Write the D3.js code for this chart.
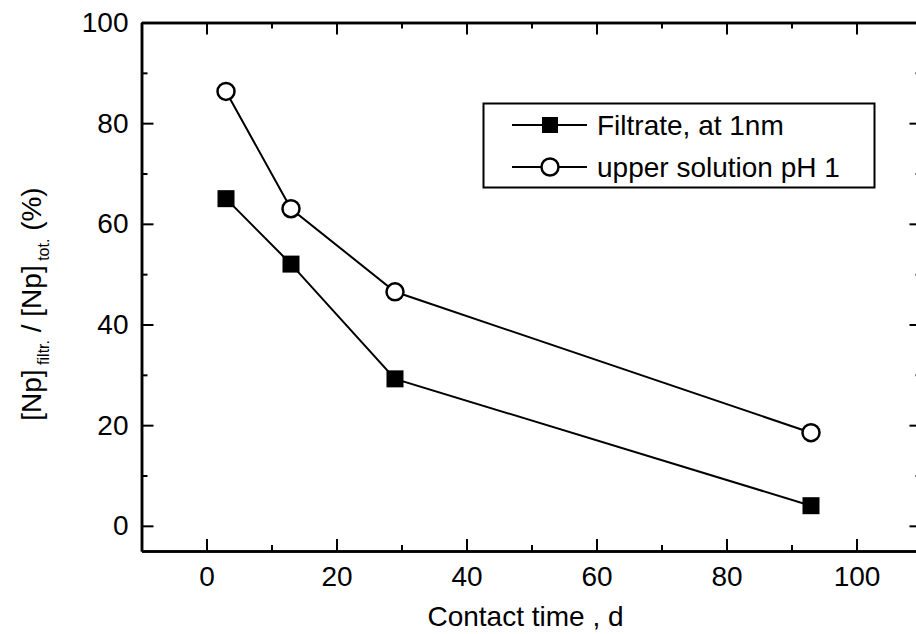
<!DOCTYPE html>
<html>
<head>
<meta charset="utf-8">
<script src="https://cdn.jsdelivr.net/npm/d3@7"></script>
<style>
  body { margin: 0; background: #fff; }
  svg { font-family: "Liberation Sans", Arial, sans-serif; }
</style>
</head>
<body>
<svg id="root"></svg>
<script>
// data
const days = [3, 13, 29, 93];
const filtrate = [65, 52, 29.2, 4];
const upper = [86.3, 63, 46.5, 18.5];
const seriesNames = ["Filtrate, at 1nm", "upper solution pH 1"];
const xTicks = [0, 20, 40, 60, 80, 100];
const xMinor = [-10, 10, 30, 50, 70, 90, 110];
const yTicks = [0, 20, 40, 60, 80, 100];
const yMinor = [10, 30, 50, 70, 90];

const W = 916, H = 634;
const svg = d3.select("#root").attr("width", W).attr("height", H);

const x = d3.scaleLinear([-10, 110], [141.5, 921.5]);
const y = d3.scaleLinear([-5, 100], [551, 22.5]);

const fs = 28;

// frame axes, ticks point inward
function styleAxis(g) {
  g.select(".domain").attr("stroke-width", 2.5);
  g.selectAll(".tick line").attr("stroke-width", 2);
  g.selectAll(".tick text").attr("font-size", fs).attr("fill", "#000")
    .attr("font-family", "Liberation Sans, Arial, sans-serif");
}

svg.append("g").attr("transform", `translate(0,${y(-5)})`)
  .call(d3.axisBottom(x).tickValues(xTicks).tickSize(-12).tickPadding(15).tickSizeOuter(0))
  .call(styleAxis);
svg.append("g").attr("transform", `translate(0,${y(-5)})`)
  .call(d3.axisBottom(x).tickValues(xMinor).tickSize(-6).tickFormat("").tickSizeOuter(0))
  .call(styleAxis);
svg.append("g").attr("transform", `translate(0,${y(100)})`)
  .call(d3.axisTop(x).tickValues(xTicks).tickSize(-12).tickFormat("").tickSizeOuter(0))
  .call(styleAxis);
svg.append("g").attr("transform", `translate(0,${y(100)})`)
  .call(d3.axisTop(x).tickValues(xMinor).tickSize(-6).tickFormat("").tickSizeOuter(0))
  .call(styleAxis);

svg.append("g").attr("transform", `translate(${x(-10)},0)`)
  .call(d3.axisLeft(y).tickValues(yTicks).tickSize(-12).tickPadding(13).tickSizeOuter(0))
  .call(styleAxis);
svg.append("g").attr("transform", `translate(${x(-10)},0)`)
  .call(d3.axisLeft(y).tickValues(yMinor).tickSize(-6).tickFormat("").tickSizeOuter(0))
  .call(styleAxis);
svg.append("g").attr("transform", `translate(${x(110)},0)`)
  .call(d3.axisRight(y).tickValues(yTicks).tickSize(-12).tickFormat("").tickSizeOuter(0))
  .call(styleAxis);
svg.append("g").attr("transform", `translate(${x(110)},0)`)
  .call(d3.axisRight(y).tickValues(yMinor).tickSize(-6).tickFormat("").tickSizeOuter(0))
  .call(styleAxis);

// axis titles
svg.append("text")
  .attr("x", (x(-10) + x(110)) / 2 - 6)
  .attr("y", 626)
  .attr("text-anchor", "middle")
  .attr("font-size", fs)
  .text("Contact time , d");

const yl = svg.append("text")
  .attr("transform", "translate(41,304) rotate(-90)")
  .attr("text-anchor", "middle")
  .attr("font-size", fs);
yl.append("tspan").text("[Np]");
yl.append("tspan").attr("font-size", 16).attr("dy", 8).text(" filtr.");
yl.append("tspan").attr("dy", -8).text(" / [Np]");
yl.append("tspan").attr("font-size", 16).attr("dy", 8).text(" tot.");
yl.append("tspan").attr("dy", -8).text(" (%)");

// series
const line = d3.line().x((d, i) => x(days[i])).y(d => y(d));

svg.append("path").datum(upper)
  .attr("fill", "none").attr("stroke", "#000").attr("stroke-width", 2)
  .attr("d", line);
svg.append("path").datum(filtrate)
  .attr("fill", "none").attr("stroke", "#000").attr("stroke-width", 2)
  .attr("d", line);

const sq = 17;
svg.selectAll(".sq").data(filtrate).join("rect")
  .attr("class", "sq")
  .attr("x", (d, i) => x(days[i]) - sq / 2)
  .attr("y", d => y(d) - sq / 2)
  .attr("width", sq).attr("height", sq)
  .attr("fill", "#000");

svg.selectAll(".ci").data(upper).join("circle")
  .attr("class", "ci")
  .attr("cx", (d, i) => x(days[i]))
  .attr("cy", d => y(d))
  .attr("r", 8.5)
  .attr("fill", "#fff").attr("stroke", "#000").attr("stroke-width", 2.5);

// legend
const lg = svg.append("g");
lg.append("rect")
  .attr("x", 483.5).attr("y", 103.5).attr("width", 391).attr("height", 84)
  .attr("fill", "#fff").attr("stroke", "#000").attr("stroke-width", 2);

const rows = [125, 167];
rows.forEach((ry, i) => {
  lg.append("line").attr("x1", 512).attr("x2", 587).attr("y1", ry).attr("y2", ry)
    .attr("stroke", "#000").attr("stroke-width", 2);
  if (i === 0) {
    lg.append("rect").attr("x", 550 - 8).attr("y", ry - 8).attr("width", 16).attr("height", 16)
      .attr("fill", "#000");
  } else {
    lg.append("circle").attr("cx", 550).attr("cy", ry).attr("r", 8.5)
      .attr("fill", "#fff").attr("stroke", "#000").attr("stroke-width", 2.5);
  }
  lg.append("text").attr("x", 597).attr("y", ry + 10)
    .attr("font-size", fs).text(seriesNames[i]);
});
</script>
</body>
</html>
